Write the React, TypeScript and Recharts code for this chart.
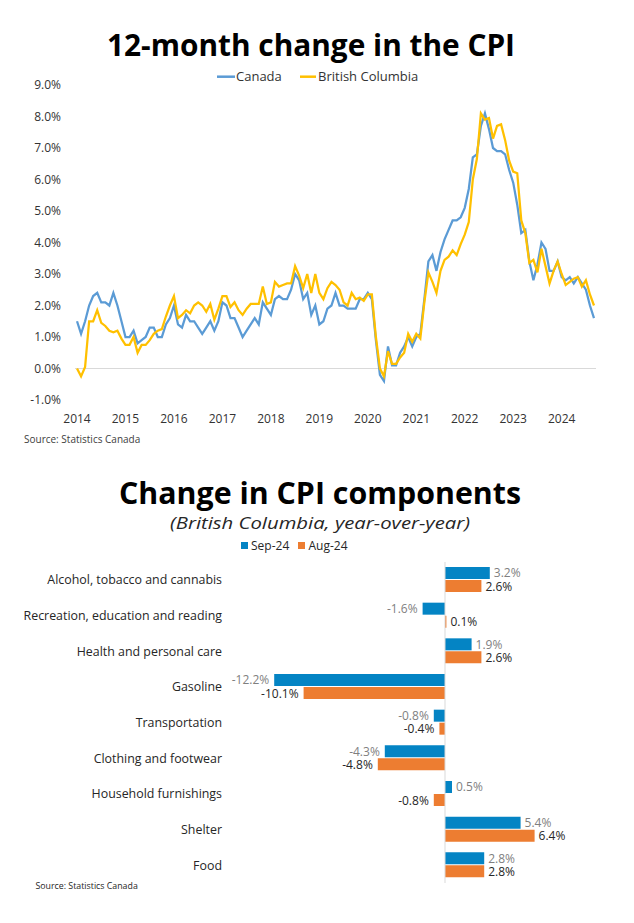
import React from "react";
import {
  Bar,
  BarChart,
  LabelList,
  Line,
  LineChart,
  ReferenceLine,
  XAxis,
  YAxis,
} from "recharts";

// 12-month change, monthly from Jan 2014 to Sep 2024
const years = ["2014", "2015", "2016", "2017", "2018", "2019", "2020", "2021", "2022", "2023", "2024"];
const yTicks = [-1, 0, 1, 2, 3, 4, 5, 6, 7, 8, 9];

const canada = [
  1.5, 1.1, 1.5, 2.0, 2.3, 2.4, 2.1, 2.1, 2.0, 2.4, 2.0, 1.5,
  1.0, 1.0, 1.2, 0.8, 0.9, 1.0, 1.3, 1.3, 1.0, 1.0, 1.4, 1.6,
  2.0, 1.4, 1.3, 1.7, 1.5, 1.5, 1.3, 1.1, 1.3, 1.5, 1.2, 1.5,
  2.1, 2.0, 1.6, 1.6, 1.3, 1.0, 1.2, 1.4, 1.6, 1.4, 2.1, 1.9,
  1.7, 2.2, 2.3, 2.2, 2.2, 2.5, 3.0, 2.8, 2.2, 2.4, 1.7, 2.0,
  1.4, 1.5, 1.9, 2.0, 2.4, 2.0, 2.0, 1.9, 1.9, 1.9, 2.2, 2.2,
  2.4, 2.2, 0.9, -0.2, -0.4, 0.7, 0.1, 0.1, 0.5, 0.7, 1.0, 0.7,
  1.0, 1.1, 2.2, 3.4, 3.6, 3.1, 3.7, 4.1, 4.4, 4.7, 4.7, 4.8,
  5.1, 5.7, 6.7, 6.8, 7.7, 8.1, 7.6, 7.0, 6.9, 6.9, 6.8, 6.3,
  5.9, 5.2, 4.3, 4.4, 3.4, 2.8, 3.3, 4.0, 3.8, 3.1, 3.1, 3.4,
  2.9, 2.8, 2.9, 2.7, 2.9, 2.7, 2.5, 2.0, 1.6,
];

const britishColumbia = [
  0.0, -0.25, 0.05, 1.5, 1.5, 1.85, 1.45, 1.35, 1.2, 1.15, 1.2, 0.95,
  0.75, 0.75, 1.0, 0.5, 0.75, 0.75, 0.9, 1.1, 1.2, 1.25, 1.65, 2.0,
  2.3, 1.6, 1.7, 1.85, 1.75, 2.0, 2.1, 2.0, 1.8, 2.05, 1.55, 1.9,
  2.3, 2.3, 1.95, 2.1, 1.85, 1.7, 1.9, 2.05, 2.05, 2.05, 2.6, 2.05,
  2.1, 2.75, 2.6, 2.65, 2.7, 2.7, 3.25, 2.95, 2.55, 3.0, 2.4, 3.0,
  2.4, 2.2, 2.55, 2.75, 2.65, 2.5, 2.1, 2.0, 2.4, 2.2, 2.25, 2.15,
  2.35, 2.35, 1.0, 0.0, -0.25, 0.55, 0.15, 0.15, 0.35, 0.5, 1.1, 0.85,
  1.1, 0.95, 2.1, 3.05, 2.75, 2.4, 3.1, 3.45, 3.55, 3.75, 3.6, 3.95,
  4.25, 4.65, 6.0, 6.65, 8.1, 7.9, 7.95, 7.3, 7.7, 7.75, 7.25, 6.6,
  6.25, 6.2, 4.7, 4.3, 3.35, 3.45, 3.05, 3.8, 3.25, 2.7, 3.1, 3.4,
  3.0, 2.65, 2.75, 2.85, 2.9, 2.6, 2.8, 2.35, 2.0,
];

// CPI components, British Columbia
const components = [
  "Alcohol, tobacco and cannabis",
  "Recreation, education and reading",
  "Health and personal care",
  "Gasoline",
  "Transportation",
  "Clothing and footwear",
  "Household furnishings",
  "Shelter",
  "Food",
];
const sep24 = [3.2, -1.6, 1.9, -12.2, -0.8, -4.3, 0.5, 5.4, 2.8];
const aug24 = [2.6, 0.1, 2.6, -10.1, -0.4, -4.8, -0.8, 6.4, 2.8];

const lineData = canada.map((v, i) => ({ m: i, canada: v, bc: britishColumbia[i] }));
const barData = components.map((name, i) => ({ name, sep: sep24[i], aug: aug24[i] }));

const BLUE_LINE = "#5B9BD5";
const YELLOW = "#FFC000";
const BAR_BLUE = "#0484C4";
const BAR_ORANGE = "#ED7D31";
const FONT = "'Open Sans', sans-serif";

const valueLabel = (color: string, shift: number) => (props: any) => {
  const vb = props.viewBox && props.viewBox.width !== undefined ? props.viewBox : props;
  const x = Number(vb.x);
  const y = Number(vb.y);
  const w = Number(vb.width);
  const h = Number(vb.height);
  const v = Number(props.value);
  const left = Math.min(x, x + w);
  const right = Math.max(x, x + w);
  const pos = v >= 0;
  return (
    <text
      x={pos ? right + 4 : left - 5}
      y={y + h / 2 + shift}
      dy="0.35em"
      textAnchor={pos ? "start" : "end"}
      fontFamily={FONT}
      fontSize={12}
      fill={color}
    >
      {v.toFixed(1)}%
    </text>
  );
};

const App = () => {
  return (
    <div style={{ position: "absolute", left: 0, top: 0, width: 634, height: 923, background: "#fff" }}>
      <div style={{ position: "absolute", left: 0, top: 0 }}>
        <LineChart width={634} height={440} data={lineData} margin={{ top: 85, right: 38, bottom: 10, left: 0 }}>
          <ReferenceLine y={0} stroke="#d9d9d9" strokeWidth={1} />
          <XAxis
            dataKey="m"
            type="number"
            domain={[-0.5, 128.5]}
            ticks={years.map((_, i) => i * 12)}
            tickFormatter={(v: number) => years[Math.round(v / 12)]}
            axisLine={false}
            tickLine={false}
            tickMargin={8}
            tick={{ fontSize: 12, fill: "#333", fontFamily: FONT }}
          />
          <YAxis
            type="number"
            domain={[-1, 9]}
            ticks={yTicks}
            tickFormatter={(v: number) => `${v.toFixed(1)}%`}
            axisLine={false}
            tickLine={false}
            tickMargin={8}
            width={75}
            tick={{ fontSize: 12, fill: "#333", fontFamily: FONT }}
          />
          <Line type="linear" dataKey="canada" name="Canada" stroke={BLUE_LINE} strokeWidth={2.25} dot={false} isAnimationActive={false} />
          <Line type="linear" dataKey="bc" name="British Columbia" stroke={YELLOW} strokeWidth={2.25} dot={false} isAnimationActive={false} />
        </LineChart>
      </div>

      <div style={{ position: "absolute", left: 0, top: 540 }}>
        <BarChart
          width={634}
          height={360}
          data={barData}
          layout="vertical"
          margin={{ top: 22, right: 49, bottom: 17, left: 9 }}
          barCategoryGap={5}
          barGap={1}
        >
          <XAxis type="number" domain={[-14, 10]} hide />
          <YAxis
            type="category"
            dataKey="name"
            width={240}
            axisLine={false}
            tickLine={false}
            tickMargin={21}
            interval={0}
            tick={{ fontSize: 12.4, fill: "#262626", fontFamily: FONT }}
          />
          <ReferenceLine x={0} stroke="#d9d9d9" strokeWidth={1} />
          <Bar dataKey="sep" name="Sep-24" fill={BAR_BLUE} isAnimationActive={false}>
            <LabelList dataKey="sep" content={valueLabel("#7f7f7f", 0)} />
          </Bar>
          <Bar dataKey="aug" name="Aug-24" fill={BAR_ORANGE} isAnimationActive={false}>
            <LabelList dataKey="aug" content={valueLabel("#262626", 0.5)} />
          </Bar>
        </BarChart>
      </div>

      <svg width={634} height={923} style={{ position: "absolute", left: 0, top: 0, pointerEvents: "none" }}>
        <text x={107} y={56} fontFamily={FONT} fontWeight={700} fontSize={30} fill="#000" textLength={408} lengthAdjust="spacingAndGlyphs">
          12-month change in the CPI
        </text>
        <line x1={217} x2={235} y1={76.7} y2={76.7} stroke={BLUE_LINE} strokeWidth={2.5} />
        <text x={236} y={81.3} fontFamily={FONT} fontSize={13} fill="#333">Canada</text>
        <line x1={300} x2={316} y1={76.7} y2={76.7} stroke={YELLOW} strokeWidth={2.5} />
        <text x={318} y={81.3} fontFamily={FONT} fontSize={13} fill="#333">British Columbia</text>
        <text x={24} y={442.8} fontFamily={FONT} fontSize={10} fill="#404040">Source: Statistics Canada</text>

        <text x={119} y={504} fontFamily={FONT} fontWeight={700} fontSize={30} fill="#000" textLength={402} lengthAdjust="spacingAndGlyphs">
          Change in CPI components
        </text>
        <text x={170} y={529} fontFamily={FONT} fontStyle="italic" fontSize={16} fill="#262626" textLength={300} lengthAdjust="spacingAndGlyphs">
          (British Columbia, year-over-year)
        </text>
        <rect x={241} y={542} width={7} height={7} fill={BAR_BLUE} />
        <text x={251} y={550.2} fontFamily={FONT} fontSize={12} fill="#262626">Sep-24</text>
        <rect x={298} y={542} width={7} height={7} fill={BAR_ORANGE} />
        <text x={308.5} y={550.2} fontFamily={FONT} fontSize={12} fill="#262626">Aug-24</text>
        <text x={35.5} y={889.3} fontFamily={FONT} fontSize={8.8} fill="#262626">Source: Statistics Canada</text>
      </svg>
    </div>
  );
};

export default App;
